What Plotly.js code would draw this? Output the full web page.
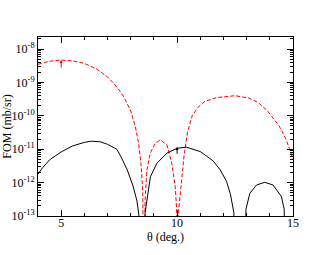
<!DOCTYPE html>
<html><head><meta charset="utf-8">
<script src="https://cdn.plot.ly/plotly-3.0.1.min.js"></script>
<style>html,body{margin:0;padding:0;background:#fff}#c{width:330px;height:255px}</style>
</head><body><div id="c"></div>
<script>
var thetaRed = [4.0,4.5,5.0,5.5,6.0,6.5,7.0,7.27,7.5,7.7,8.0,8.2,8.34,8.45,8.52,8.57,8.62,8.7,8.84,9.06,9.27,9.56,9.77,9.92,9.98,10.02,10.07,10.2,10.3,10.45,10.65,10.9,11.2,11.7,12.5,13.1,13.5,13.9,14.4,14.7,15.0];
var fomRed = [3.5e-9,4.3e-9,4.7e-9,4.4e-9,3.7e-9,2.6e-9,1.45e-9,9.3e-10,5.9e-10,3.7e-10,1.4e-10,4.7e-11,1.5e-11,3.2e-12,5e-13,1e-16,3.2e-13,2.5e-12,7.6e-12,1.5e-11,1.9e-11,1.35e-11,3.8e-12,7.6e-13,1.6e-13,1e-16,1.6e-13,1.26e-12,6.3e-12,3.2e-11,1e-10,1.8e-10,2.7e-10,3.5e-10,4e-10,3.4e-10,2.5e-10,1.4e-10,5e-11,2e-11,5e-12];
var thetaBlack = [4.0,4.2,4.5,5.0,5.5,6.0,6.3,6.7,7.0,7.4,7.6,7.85,8.1,8.27,8.35,8.38,8.58,8.62,8.71,8.85,9.13,9.56,10.0,10.4,11.0,11.55,11.86,12.13,12.3,12.45,12.5,12.92,12.97,13.14,13.43,13.78,14.14,14.5,14.62,14.68];
var fomBlack = [1.8e-12,2.8e-12,4.8e-12,8.3e-12,1.26e-11,1.6e-11,1.74e-11,1.66e-11,1.4e-11,1e-11,5.6e-12,2.4e-12,7.9e-13,2.8e-13,1.1e-13,1e-16,1e-16,1.26e-13,3.8e-13,1.5e-12,3.8e-12,7.6e-12,1.07e-11,1.15e-11,8.5e-12,4.5e-12,2.4e-12,1.1e-12,4.5e-13,1.26e-13,1e-16,1e-16,1.6e-13,4.8e-13,8.5e-13,1.02e-12,8.5e-13,3.8e-13,1.6e-13,1e-16];
var arrowTheta = [5, 10];
var arrowBase = [2.5e-9, 6.6e-12];
var arrowTip = [4.7e-9, 1.17e-11];
var arrowColor = ['#ff0000', '#000000'];
var xTitle = 'θ (deg.)';
var yTitle = 'FOM (mb/sr)';
var decades = [-13, -12, -11, -10, -9, -8];
var yTickText = ['10<sup>-13</sup>', '10<sup>-12</sup>', '10<sup>-11</sup>', '10<sup>-10</sup>', '10<sup>-9</sup>', '10<sup>-8</sup>'];
var minorDigits = [2, 3, 4, 5, 6, 7, 8, 9];

var minorVals = [];
decades.forEach(function(d) { minorDigits.forEach(function(m) { minorVals.push(m * Math.pow(10, d)); }); });
var majorVals = decades.map(function(d) { return Math.pow(10, d); });

var font = {family: 'Liberation Serif, Times New Roman, serif', size: 12, color: '#000'};
var traces = [
  {x: thetaRed, y: fomRed, mode: 'lines', line: {color: '#ff0000', width: 1, dash: '4px,2px'}, hoverinfo: 'skip'},
  {x: thetaBlack, y: fomBlack, mode: 'lines', line: {color: '#000000', width: 1}, hoverinfo: 'skip'}
];
var ann = arrowTheta.map(function(t, i) {
  return {x: t, y: Math.log10(arrowTip[i]), ax: t, ay: Math.log10(arrowBase[i]), axref: 'x', ayref: 'y', xref: 'x', yref: 'y',
    showarrow: true, arrowhead: 2, arrowsize: 0.6, arrowwidth: 1, arrowcolor: arrowColor[i], text: ''};
});
ann.push({xref: 'paper', yref: 'paper', x: -0.125, y: 0.5, xanchor: 'center', yanchor: 'middle', textangle: -90,
  showarrow: false, text: yTitle, font: font});
ann.push({xref: 'paper', yref: 'paper', x: 0.5, y: -0.117, xanchor: 'center', yanchor: 'middle',
  showarrow: false, text: xTitle, font: font});
var layout = {
  width: 330, height: 255, showlegend: false,
  margin: {l: 38, r: 37, t: 37, b: 39},
  paper_bgcolor: '#fff', plot_bgcolor: '#fff', font: font,
  xaxis: {range: [4, 15], tick0: 5, dtick: 5, ticks: 'inside', ticklen: 6, tickcolor: '#000', ticklabelstandoff: -4,
    showline: true, linecolor: '#000', linewidth: 1, mirror: 'ticks', showgrid: false, zeroline: false,
    minor: {ticks: 'inside', ticklen: 3, dtick: 1, tick0: 5, tickcolor: '#000', showgrid: false},
    tickfont: font, automargin: false},
  yaxis: {type: 'log', range: [-13, -7.64], tickmode: 'array', tickvals: majorVals, ticktext: yTickText,
    ticks: 'inside', ticklen: 6, tickcolor: '#000',
    showline: true, linecolor: '#000', linewidth: 1, mirror: 'ticks', showgrid: false, zeroline: false,
    minor: {ticks: 'inside', ticklen: 3, tickmode: 'array', tickvals: minorVals, tickcolor: '#000', showgrid: false},
    tickfont: font, automargin: false},
  annotations: ann
};
Plotly.newPlot('c', traces, layout, {staticPlot: true, displayModeBar: false});
</script></body></html>
